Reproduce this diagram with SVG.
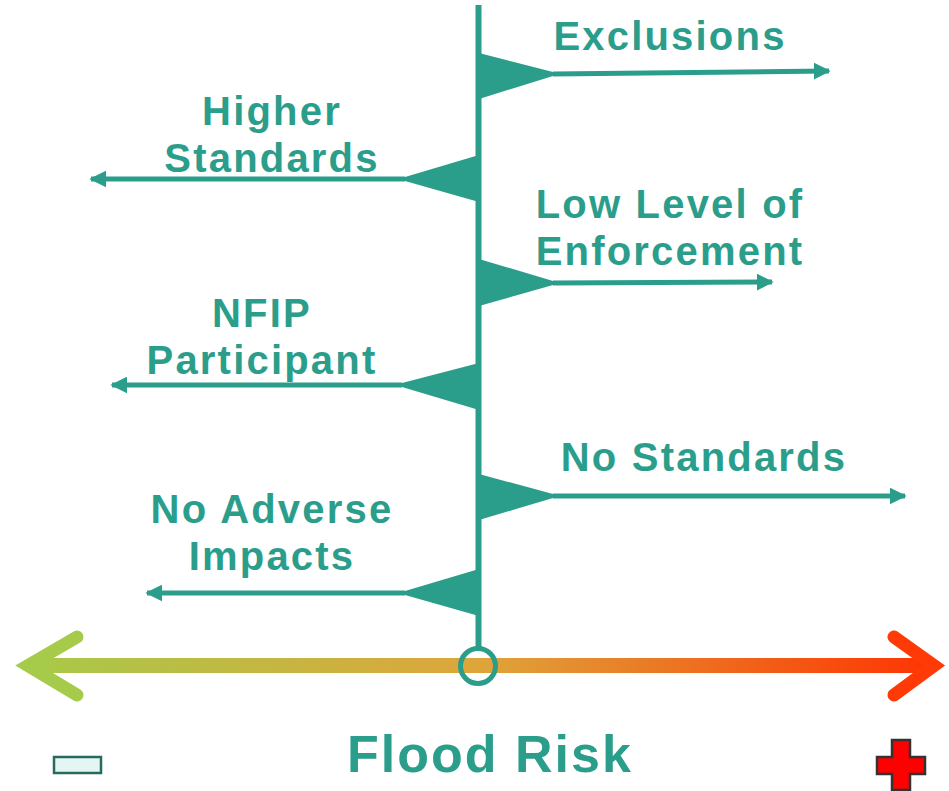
<svg xmlns="http://www.w3.org/2000/svg" width="949" height="791" viewBox="0 0 949 791">
<defs>
<linearGradient id="risk" x1="14" y1="0" x2="949" y2="0" gradientUnits="userSpaceOnUse">
<stop offset="0" stop-color="#a6cb4a"/>
<stop offset="0.5" stop-color="#dea53a"/>
<stop offset="1" stop-color="#ff3000"/>
</linearGradient>
<marker id="ah" viewBox="0 0 10 10" refX="9" refY="5" markerWidth="17" markerHeight="17" markerUnits="userSpaceOnUse" orient="auto">
<path d="M0,0 L10,5 L0,10 Z" fill="#2b9e8b"/>
</marker>
<style>
.lbl{font-family:"Liberation Sans",Arial,sans-serif;font-weight:bold;font-size:40px;fill:#2b9e8b;text-anchor:middle;letter-spacing:2.2px}
.flag{fill:#2b9e8b}
.ray{stroke:#2b9e8b;stroke-width:5;fill:none;marker-end:url(#ah)}
</style>
</defs>
<rect width="949" height="791" fill="#ffffff"/>
<g id="axis">
<line x1="30" y1="665.5" x2="930" y2="665.5" stroke="url(#risk)" stroke-width="15"/>
<polyline points="77,637 28,665.5 77,695" fill="none" stroke="#a6cb4a" stroke-width="13" stroke-linecap="round" stroke-linejoin="miter"/>
<polyline points="894,637 934,665.5 894,695" fill="none" stroke="#ff3a06" stroke-width="13" stroke-linecap="round" stroke-linejoin="miter"/>
</g>
<g id="connectors">
<line x1="478.5" y1="5" x2="478.5" y2="649" stroke="#2b9e8b" stroke-width="6"/>
<circle cx="478" cy="666" r="17.5" fill="none" stroke="#2b9e8b" stroke-width="5"/>
<path class="ray" d="M553,74 L829,71"/>
<path class="ray" d="M405,179 L91,179"/>
<path class="ray" d="M553,283 L772,282"/>
<path class="ray" d="M402,385 L112,385"/>
<path class="ray" d="M553,496 L905,496"/>
<path class="ray" d="M405,593 L147,593"/>
</g>
<g id="exclusions">
<polygon class="flag" points="479,53 553,72 553,76 479,99"/>
<text class="lbl" x="670" y="50">Exclusions</text>
</g>
<g id="higher-standards">
<polygon class="flag" points="479,155 405,177 405,181 479,202"/>
<text class="lbl" x="272" y="125">Higher</text>
<text class="lbl" x="272" y="172">Standards</text>
</g>
<g id="low-enforcement">
<polygon class="flag" points="479,259 553,281 553,285 479,306"/>
<text class="lbl" x="670" y="218">Low Level of</text>
<text class="lbl" x="670" y="265">Enforcement</text>
</g>
<g id="nfip-participant">
<polygon class="flag" points="479,363 402,383 402,387 479,410"/>
<text class="lbl" x="262" y="327">NFIP</text>
<text class="lbl" x="262" y="374">Participant</text>
</g>
<g id="no-standards">
<polygon class="flag" points="479,474 553,494 553,498 479,520"/>
<text class="lbl" x="704" y="471">No Standards</text>
</g>
<g id="no-adverse-impacts">
<polygon class="flag" points="479,569 405,591 405,595 479,616"/>
<text class="lbl" x="272" y="523">No Adverse</text>
<text class="lbl" x="272" y="570">Impacts</text>
</g>
<g id="flood-risk">
<text x="490" y="772" font-family="Liberation Sans, Arial, sans-serif" font-weight="bold" font-size="52" fill="#2b9e8b" text-anchor="middle" letter-spacing="2">Flood Risk</text>
</g>
<g id="minus">
<rect x="54" y="757" width="47" height="16" fill="#e4f6f3" stroke="#276a5e" stroke-width="2.5"/>
</g>
<g id="plus">
<path d="M892,740 H910 V757 H925 V774 H910 V790 H892 V774 H877 V757 H892 Z" fill="#ff0000" stroke="#333333" stroke-width="2.5"/>
</g>
</svg>
